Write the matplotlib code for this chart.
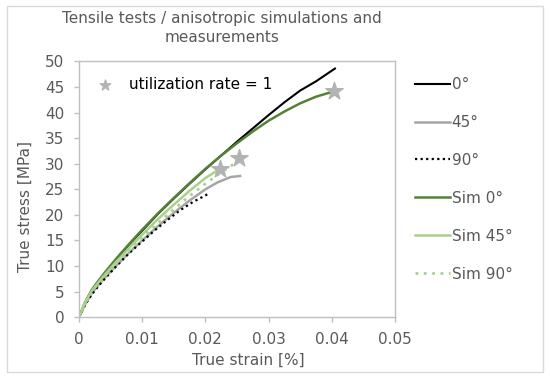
import matplotlib
matplotlib.use('Agg')
import matplotlib.pyplot as plt
from matplotlib.patches import Rectangle

plt.rcParams['font.family'] = ['DejaVu Sans']

# Measured curves (strain, stress)
strain_0 = [0, 0.001, 0.002, 0.003, 0.004, 0.006, 0.008, 0.01, 0.0125, 0.015, 0.0175, 0.02,
            0.0225, 0.025, 0.0275, 0.03, 0.0325, 0.035, 0.0375, 0.0405]
stress_0 = [0, 2.8, 4.9, 6.7, 8.3, 11.4, 14.3, 16.9, 20.2, 23.2, 26.1, 28.9,
            31.6, 34.3, 36.9, 39.5, 42.0, 44.3, 46.1, 48.6]

strain_45 = [0, 0.001, 0.002, 0.003, 0.004, 0.006, 0.008, 0.01, 0.0125, 0.015, 0.0175,
             0.02, 0.022, 0.024, 0.0255]
stress_45 = [0, 2.6, 4.6, 6.2, 7.6, 10.2, 12.7, 15.0, 17.8, 20.4, 22.8,
             25.0, 26.4, 27.4, 27.6]

strain_90 = [0, 0.001, 0.002, 0.003, 0.004, 0.006, 0.008, 0.01, 0.012, 0.014, 0.016,
             0.018, 0.0203]
stress_90 = [0, 2.5, 4.4, 6.0, 7.4, 10.1, 12.6, 14.8, 17.0, 19.0, 20.9, 22.5, 24.0]

# Simulated curves
strain_s0 = [0, 0.001, 0.002, 0.003, 0.004, 0.006, 0.008, 0.01, 0.0125, 0.015, 0.0175, 0.02,
             0.0225, 0.025, 0.0275, 0.03, 0.0325, 0.035, 0.0375, 0.0405]
stress_s0 = [0, 3.0, 5.3, 7.0, 8.6, 11.6, 14.4, 17.1, 20.3, 23.3, 26.2, 29.0,
             31.6, 34.0, 36.3, 38.4, 40.2, 41.8, 43.1, 44.2]

strain_s45 = [0, 0.001, 0.002, 0.003, 0.004, 0.006, 0.008, 0.01, 0.0125, 0.015, 0.0175,
              0.02, 0.0223]
stress_s45 = [0, 2.9, 5.1, 6.7, 8.2, 11.0, 13.6, 16.1, 19.2, 22.0, 24.7, 27.2, 29.0]

strain_s90 = [0, 0.001, 0.002, 0.003, 0.004, 0.006, 0.008, 0.01, 0.0125, 0.015, 0.0175,
              0.02, 0.0225, 0.0253]
stress_s90 = [0, 2.8, 4.9, 6.5, 7.9, 10.6, 13.1, 15.5, 18.4, 21.1, 23.7, 26.1, 28.3, 30.6]

# Failure points (utilization rate = 1)
star_x = [0.0223, 0.0253, 0.0404]
star_y = [29.0, 31.2, 44.3]

fig = plt.figure(figsize=(5.5, 3.79), dpi=100)
fig.patches.append(Rectangle((0.012, 0.018), 0.976, 0.967, transform=fig.transFigure,
                             fill=False, edgecolor='#d9d9d9', linewidth=1))
ax = fig.add_axes([0.1436, 0.163, 0.5745, 0.675])

ax.plot(strain_0, stress_0, color='black', lw=1.5, label='0°')
ax.plot(strain_45, stress_45, color='#a6a6a6', lw=1.8, label='45°')
ax.plot(strain_90, stress_90, color='black', lw=1.6, ls=(0, (1, 1.5)), label='90°')
ax.plot(strain_s0, stress_s0, color='#548235', lw=1.8, label='Sim 0°')
ax.plot(strain_s45, stress_s45, color='#a9d18e', lw=1.8, label='Sim 45°')
ax.plot(strain_s90, stress_s90, color='#a9d18e', lw=2.0, ls=(0, (1, 2)), label='Sim 90°')
stars = ax.scatter(star_x, star_y, marker='*', s=170, color='#b3b3b3', zorder=5,
                   label='utilization rate = 1')

ax.set_xlim(0, 0.05)
ax.set_ylim(0, 50)
ax.set_xticks([0, 0.01, 0.02, 0.03, 0.04, 0.05])
ax.set_xticklabels(['0', '0.01', '0.02', '0.03', '0.04', '0.05'])
ax.set_yticks(range(0, 51, 5))
ax.tick_params(colors='#bfbfbf', labelcolor='#595959', labelsize=11, length=3.6,
               width=1, pad=7)
for s in ax.spines.values():
    s.set_color('#bfbfbf')
    s.set_linewidth(1)
ax.set_xlabel('True strain [%]', color='#595959', fontsize=11)
ax.set_ylabel('True stress [MPa]', color='#595959', fontsize=11)
ax.xaxis.set_label_coords(0.535, -0.168)
ax.yaxis.set_label_coords(-0.171, 0.434)
ax.xaxis.label.set_va('center')
ax.yaxis.label.set_va('center')

fig.text(0.404, 0.972, 'Tensile tests / anisotropic simulations and\nmeasurements',
         ha='center', va='top', color='#595959', fontsize=11, linespacing=1.4)

handles, labels = ax.get_legend_handles_labels()
leg1 = ax.legend(handles[:6], labels[:6], loc='upper left', bbox_to_anchor=(1.044, 0.963),
                 frameon=False, fontsize=11, labelcolor='#595959', handlelength=2.3,
                 handletextpad=0.1, labelspacing=1.5, borderaxespad=0)
ax.add_artist(leg1)
ax.legend([stars], ['utilization rate = 1'], loc='upper left', frameon=False,
          fontsize=11, labelcolor='black', handletextpad=0.6, borderaxespad=0.3,
          markerscale=0.6, bbox_to_anchor=(0.0, 0.98))

fig.savefig('out.png', dpi=100)
